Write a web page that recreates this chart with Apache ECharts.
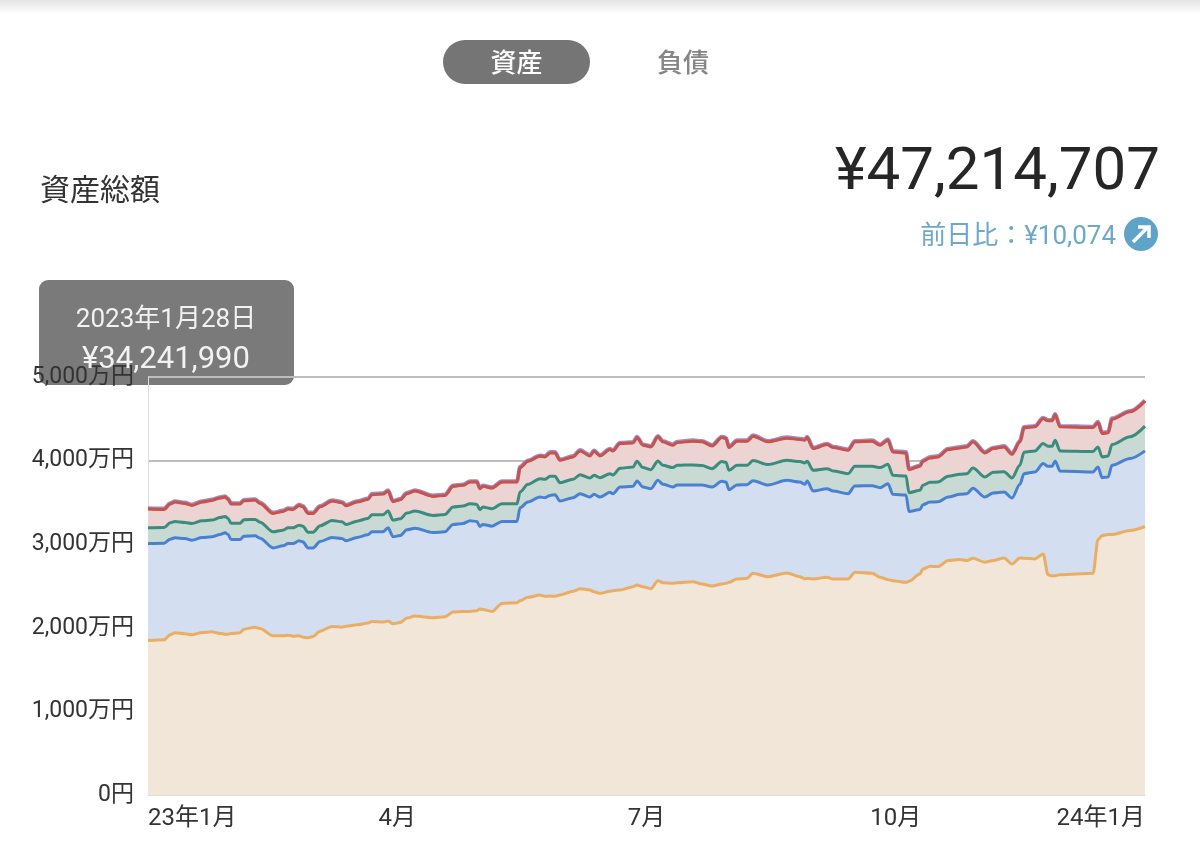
<!DOCTYPE html>
<html>
<head>
<meta charset="utf-8">
<title>資産総額</title>
<script src="https://cdn.jsdelivr.net/npm/echarts@6/dist/echarts.min.js"></script>
<style>
  html, body { margin: 0; padding: 0; background: #fff; }
  #main { width: 1200px; height: 866px; }
</style>
</head>
<body>
<div id="main"></div>
<script>
// x: days from the left edge of the chart, values in 万円 (cumulative)
var days = [
  0,5.9,8.1,9.9,13.5,16.1,19.8,23.4,26.4,28.2,29.3,30.4,33.7,35.1,39.2,41,45.8,49.4,51.3,53.1,55.3,56.7,58.6,60.4,63,67.4,71,72.5,76.5,80.5,82,86,87.9,89.7,
  92.3,94.8,97.7,104.3,108.7,111.7,115.3,117.9,120.4,121.5,122.6,125.9,129.6,135.1,136.2,139.1,143.5,145.3,147.2,149,150.8,155.6,158.2,161.8,163.3,165.5,169.1,170.2,172.8,177.6,179,181.2,184.1,186.7,188.5,192.2,193.7,199.5,202.8,206.5,210.1,211.6,212.7,215.6,219.3,221.5,227,233.9,238.7,
  240.5,241.3,243.5,248.6,250.8,256.3,258.8,265.1,268,270.9,272.7,277.5,278.6,282.6,283.7,286.3,289.2,292.9,297.3,299.8,302,306.4,309.4,313.4,316.3,319.2,320.7,324.7,327.7,329.5,331,332.1,333.9,346,347.8,349.3,351.5,352.9,359.5,365
];
var purpleValues = [
  3430,3426,3490,3514,3498,3474,3514,3534,3562,3574,3546,3490,3490,3530,3538,3498,3378,3402,3430,3426,3474,3458,3378,3378,3458,3526,3506,3470,3514,3546,3602,3610,3646,3518,
  3542,3614,3646,3582,3594,3702,3714,3754,3754,3674,3702,3682,3754,3754,3926,4002,4062,4054,4102,4102,4014,4054,4126,4066,4122,4066,4142,4126,4214,4222,4286,4194,4174,4294,4234,4194,4226,4242,4234,4186,4286,4274,4166,4242,4242,4302,4234,4278,4262,
  4254,4286,4154,4202,4166,4134,4234,4242,4194,4254,4114,4102,3902,3942,4002,4042,4054,4142,4162,4174,4234,4102,4154,4174,4086,4234,4402,4414,4514,4486,4486,4558,4414,4406,4466,4334,4342,4506,4594,4721
];
var redValues = [
  3420,3416,3480,3504,3488,3464,3504,3524,3552,3564,3536,3480,3480,3520,3528,3488,3368,3392,3420,3416,3464,3448,3368,3368,3448,3516,3496,3460,3504,3536,3592,3600,3636,3508,
  3532,3604,3636,3572,3584,3692,3704,3744,3744,3664,3692,3672,3744,3744,3916,3992,4052,4044,4092,4092,4004,4044,4116,4056,4112,4056,4132,4116,4204,4212,4276,4184,4164,4284,4224,4184,4216,4232,4224,4176,4276,4264,4156,4232,4232,4292,4224,4268,4252,
  4244,4276,4144,4192,4156,4124,4224,4232,4184,4244,4104,4092,3892,3932,3992,4032,4044,4132,4152,4164,4224,4092,4144,4164,4076,4224,4392,4404,4504,4476,4476,4548,4404,4396,4456,4324,4332,4496,4584,4712
];
var greenValues = [
  3196,3200,3256,3272,3260,3248,3280,3288,3320,3332,3308,3252,3252,3292,3296,3264,3148,3168,3196,3196,3228,3216,3144,3144,3220,3284,3268,3236,3276,3308,3352,3352,3396,3288,
  3304,3372,3396,3344,3356,3444,3456,3484,3476,3412,3444,3424,3484,3484,3624,3716,3784,3776,3812,3812,3736,3776,3832,3792,3824,3796,3844,3828,3908,3924,3992,3916,3892,3996,3944,3916,3944,3948,3940,3904,3988,3980,3884,3944,3944,4000,3952,4004,3988,
  3972,3992,3884,3904,3876,3844,3932,3932,3916,3956,3824,3816,3616,3644,3704,3740,3744,3812,3836,3844,3912,3804,3860,3868,3792,3944,4100,4116,4204,4172,4172,4244,4116,4108,4164,4044,4056,4192,4284,4412
];
var blueValues = [
  3008,3012,3060,3076,3068,3048,3080,3088,3116,3136,3116,3056,3056,3096,3100,3072,2956,2980,3008,3008,3040,3028,2956,2956,3032,3080,3068,3040,3080,3112,3148,3148,3196,3088,
  3104,3172,3192,3140,3148,3236,3248,3280,3272,3212,3236,3216,3272,3272,3436,3504,3564,3556,3584,3592,3516,3556,3604,3564,3596,3564,3620,3604,3684,3692,3756,3684,3664,3764,3716,3684,3708,3708,3708,3684,3752,3744,3652,3708,3712,3760,3708,3764,3744,
  3716,3756,3636,3664,3636,3604,3696,3700,3676,3724,3596,3588,3392,3416,3472,3504,3508,3564,3596,3604,3668,3564,3612,3624,3552,3716,3844,3864,3964,3932,3932,3996,3876,3864,3924,3796,3804,3944,4024,4116
];
var orangeValues = [
  1848,1856,1916,1940,1928,1916,1944,1952,1932,1924,1924,1932,1940,1984,2008,1992,1904,1904,1912,1900,1904,1888,1880,1896,1960,2016,2008,2020,2036,2056,2076,2068,2080,2048,
  2064,2116,2140,2120,2132,2188,2196,2196,2204,2224,2220,2196,2292,2300,2324,2364,2392,2376,2380,2376,2392,2436,2468,2452,2432,2412,2436,2444,2452,2492,2512,2492,2468,2564,2540,2532,2540,2552,2524,2500,2524,2532,2544,2584,2592,2652,2612,2656,2612,
  2584,2592,2584,2604,2584,2584,2664,2652,2604,2576,2564,2544,2556,2644,2704,2736,2732,2804,2816,2804,2832,2784,2804,2836,2764,2836,2832,2824,2884,2636,2620,2624,2636,2652,3056,3104,3116,3116,3164,3212
];
var xTickLabels = ['23年1月', '4月', '7月', '10月', '24年1月'];
var yTickLabels = ['0円', '1,000万円', '2,000万円', '3,000万円', '4,000万円', '5,000万円'];

var FONT = 'Roboto, "Noto Sans CJK JP", sans-serif';

function pairs(values) {
  return values.map(function (v, i) { return [days[i], v]; });
}

function band(name, values, lineColor, fillColor, lineWidth) {
  var s = {
    name: name,
    type: 'line',
    data: pairs(values),
    symbol: 'none',
    silent: true,
    smooth: 0.3,
    smoothMonotone: 'x',
    lineStyle: { color: lineColor, width: lineWidth, join: 'round' }
  };
  if (fillColor) {
    s.areaStyle = { color: fillColor, opacity: 1, origin: 'start' };
  }
  return s;
}

var myChart = echarts.init(document.getElementById('main'));

var option = {
  animation: false,
  textStyle: { fontFamily: FONT },
  grid: { left: 148, right: 55, top: 377, bottom: 71 },
  xAxis: {
    type: 'value',
    min: 0,
    max: 365,
    interval: 91.25,
    axisLine: { show: true, lineStyle: { color: '#dddddd', width: 1 } },
    axisTick: { show: false },
    splitLine: { show: false },
    axisLabel: {
      fontSize: 24,
      color: '#333333',
      fontFamily: FONT,
      margin: 12,
      showMinLabel: true,
      showMaxLabel: true,
      alignMinLabel: 'left',
      alignMaxLabel: 'right',
      formatter: function (value) { return xTickLabels[Math.round(value / 91.25)]; }
    }
  },
  yAxis: {
    type: 'value',
    min: 0,
    max: 5000,
    interval: 1000,
    axisLine: { show: true, lineStyle: { color: '#dddddd', width: 1 } },
    axisTick: { show: false },
    splitLine: { show: true, lineStyle: { color: '#bdbdbd', width: 2 } },
    axisLabel: {
      fontSize: 23,
      color: '#333333',
      fontFamily: FONT,
      margin: 14,
      formatter: function (value) { return yTickLabels[value / 1000]; }
    }
  },
  series: [
    band('その他', purpleValues, '#a08cc4', null, 4),
    band('ポイント', redValues, '#c8524c', '#ecd4d2', 3),
    band('年金', greenValues, '#3c8c7e', '#c9dad5', 3),
    band('投資信託', blueValues, '#4a80d2', '#d3dff1', 3),
    band('預金', orangeValues, '#e9ae64', '#f2e6d8', 3)
  ],
  graphic: [
    // top shadow
    { type: 'rect', z: -1, shape: { x: 0, y: 0, width: 1200, height: 14 },
      style: { fill: new echarts.graphic.LinearGradient(0, 0, 0, 1, [
        { offset: 0, color: '#e4e4e4' }, { offset: 1, color: '#ffffff' }
      ]) } },
    // tabs
    { type: 'rect', z: 5, shape: { x: 443, y: 40, width: 147, height: 44, r: 22 }, style: { fill: '#757575' } },
    { type: 'text', z: 6, style: { x: 516.5, y: 65, text: '資産', fill: '#ffffff', font: '500 26px ' + FONT, textAlign: 'center', textVerticalAlign: 'middle' } },
    { type: 'text', z: 6, style: { x: 683, y: 65, text: '負債', fill: '#868686', font: '500 26px ' + FONT, textAlign: 'center', textVerticalAlign: 'middle' } },
    // header
    { type: 'text', z: 6, style: { x: 40, y: 192, text: '資産総額', fill: '#333333', font: '30px ' + FONT, textAlign: 'left', textVerticalAlign: 'middle' } },
    { type: 'text', z: 6, style: { x: 1160, y: 174, text: '¥47,214,707', fill: '#262626', font: '60px ' + FONT, textAlign: 'right', textVerticalAlign: 'middle' } },
    { type: 'text', z: 6, style: { x: 1116, y: 237, text: '前日比：¥10,074', fill: '#6ea8c9', font: '26px ' + FONT, textAlign: 'right', textVerticalAlign: 'middle' } },
    { type: 'circle', z: 6, shape: { cx: 1141, cy: 234, r: 17 }, style: { fill: '#5fa3c9' } },
    { type: 'polyline', z: 7, shape: { points: [[1133, 242], [1148, 227]] }, style: { stroke: '#ffffff', lineWidth: 3.5, fill: null } },
    { type: 'polyline', z: 7, shape: { points: [[1138, 227], [1149, 227], [1149, 238]] }, style: { stroke: '#ffffff', lineWidth: 3.5, fill: null } },
    // tooltip box
    { type: 'rect', z: -1, shape: { x: 39, y: 280, width: 255, height: 105, r: 9 }, style: { fill: '#7a7a7a' } },
    { type: 'text', z: 6, style: { x: 166, y: 320, text: '2023年1月28日', fill: '#f2f2f2', font: '26px ' + FONT, textAlign: 'center', textVerticalAlign: 'middle' } },
    { type: 'text', z: 6, style: { x: 166, y: 360, text: '¥34,241,990', fill: '#f2f2f2', font: '31px ' + FONT, textAlign: 'center', textVerticalAlign: 'middle' } }
  ]
};

myChart.setOption(option);
</script>
</body>
</html>
